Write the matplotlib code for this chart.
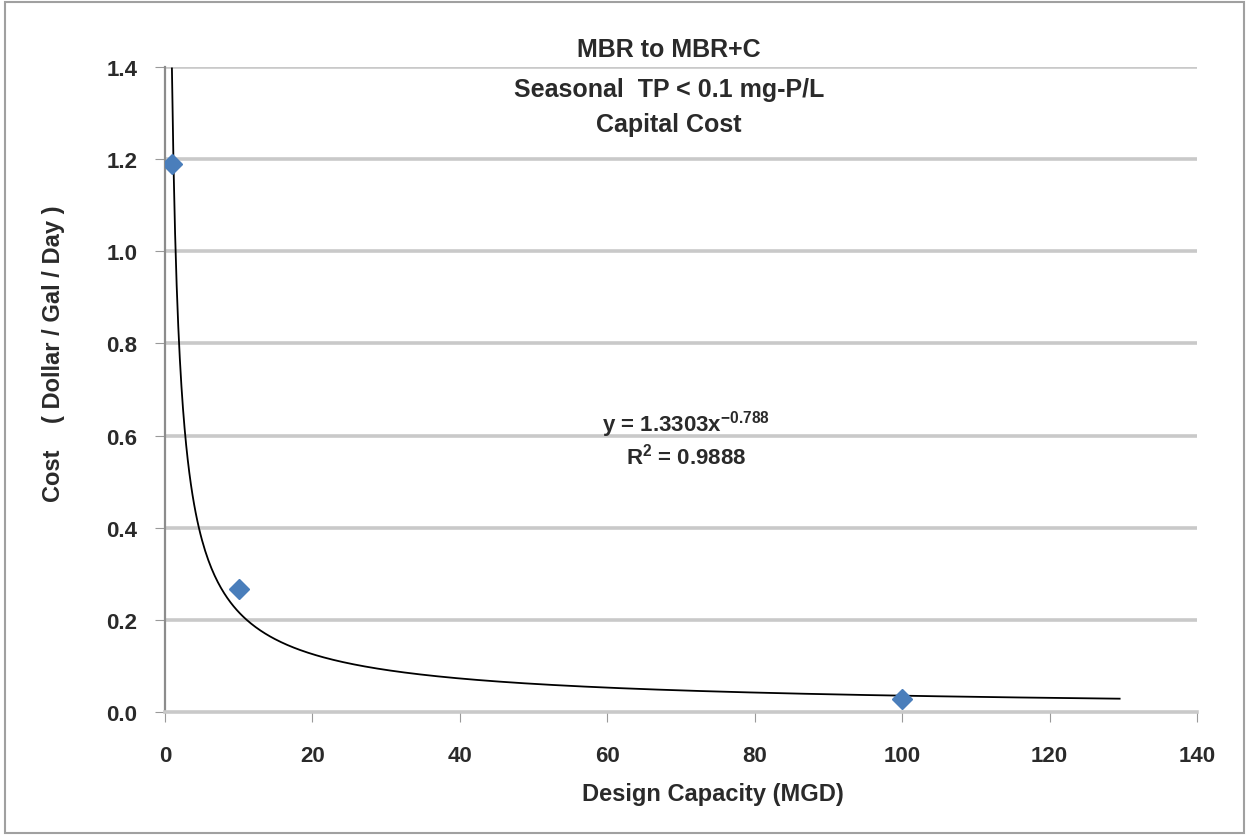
import numpy as np
import matplotlib
matplotlib.use("Agg")
import matplotlib.pyplot as plt
from matplotlib.patches import Rectangle

# data
capacity = [1, 10, 100]          # MGD
cost = [1.19, 0.267, 0.028]      # dollar / gal / day
fit_a = 1.3303
fit_b = -0.788
fit_r2 = 0.9888
fit_range = [0.94, 129.5]

xticks = [0, 20, 40, 60, 80, 100, 120, 140]
yticks = [0.0, 0.2, 0.4, 0.6, 0.8, 1.0, 1.2, 1.4]
title_lines = ["MBR to MBR+C", "Seasonal  TP < 0.1 mg-P/L", "Capital Cost"]

plt.rcParams['font.family'] = ['Liberation Sans', 'DejaVu Sans']
plt.rcParams['mathtext.fontset'] = 'custom'
plt.rcParams['mathtext.rm'] = 'Liberation Sans'
plt.rcParams['mathtext.bf'] = 'Liberation Sans:bold'

txt_c = "#2a2a2a"
fig = plt.figure(figsize=(12.49, 8.37), dpi=100)
ax = fig.add_axes([0.1321, 0.1482, 0.8263, 0.7706])

grid_c = "#c9c9c9"
for yv in yticks[1:]:
    ax.axhline(yv, color=grid_c, lw=2.6, zorder=0)

xs = np.linspace(fit_range[0], fit_range[1], 600)
ax.plot(xs, fit_a * xs ** fit_b, color="black", lw=1.3, zorder=2)
ax.plot(capacity, cost, linestyle="none", marker="D", color="#4a7ebb",
        markersize=10, zorder=3)

ax.set_xlim(0, 140)
ax.set_ylim(0, 1.4)
ax.set_xticks(xticks)
ax.set_yticks(yticks)
ax.set_xticklabels([str(v) for v in xticks], fontweight="bold")
ax.set_yticklabels([f"{v:.1f}" for v in yticks], fontweight="bold")
ax.tick_params(axis="x", direction="out", length=7, color="#999999",
               labelsize=16, pad=17, labelcolor=txt_c)
ax.tick_params(axis="y", direction="out", length=7, color="#999999",
               labelsize=16, pad=13, labelcolor=txt_c)

for s in ["top", "right"]:
    ax.spines[s].set_visible(False)
ax.spines["left"].set_color("#8c8c8c")
ax.spines["left"].set_linewidth(1.6)
ax.spines["bottom"].set_color(grid_c)
ax.spines["bottom"].set_linewidth(2.6)

ax.set_xlabel("Design Capacity (MGD)", fontsize=17, fontweight="bold", color=txt_c)
ax.xaxis.set_label_coords(0.531, -0.127)
ax.set_ylabel("Cost    ( Dollar / Gal / Day )", fontsize=17, fontweight="bold", color=txt_c)
ax.yaxis.set_label_coords(-0.1076, 0.557)
ax.yaxis.label.set_va("center")
ax.xaxis.label.set_va("center")

ax.text(70.7, 0.625, f"y = {fit_a}x" + r"$^{\mathbf{" + str(fit_b) + "}}$",
        ha="center", va="center", fontsize=16, fontweight="bold", color=txt_c)
ax.text(70.7, 0.556, r"R$^{\mathbf{2}}$ = " + str(fit_r2), ha="center", va="center",
        fontsize=16, fontweight="bold", color=txt_c)

title_y = [50, 90, 125]
for t, yp in zip(title_lines, title_y):
    fig.text(669 / 1249, 1 - yp / 837, t, ha="center", va="center",
             fontsize=18, fontweight="bold", color=txt_c)

fig.patches.append(Rectangle((0.004, 0.004), 0.992, 0.992, transform=fig.transFigure,
                             fill=False, edgecolor="#a0a0a0", lw=1.5))

fig.savefig("out.png", dpi=100, facecolor="white")
